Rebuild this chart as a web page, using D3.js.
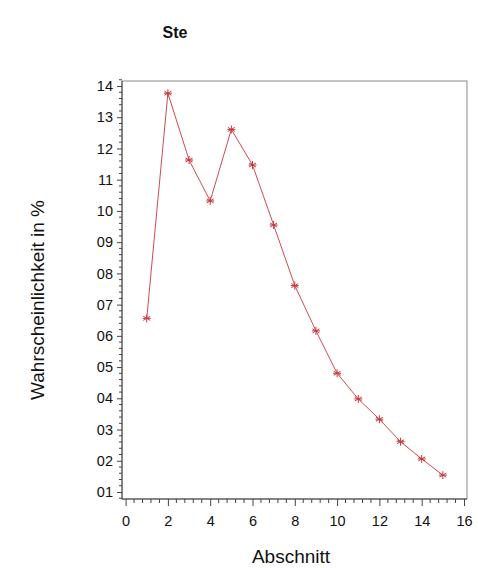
<!DOCTYPE html>
<html>
<head>
<meta charset="utf-8">
<script src="https://cdn.jsdelivr.net/npm/d3@7"></script>
<style>
  html, body { margin: 0; padding: 0; background: #fff; }
  svg { display: block; font-family: "Liberation Sans", Arial, sans-serif; }
</style>
</head>
<body>
<svg id="chart" width="478" height="568"></svg>
<script>
// Section numbers and probability per section
const sections = [1, 2, 3, 4, 5, 6, 7, 8, 9, 10, 11, 12, 13, 14, 15];
const probability = [6.56, 13.77, 11.63, 10.32, 12.61, 11.47, 9.55, 7.61, 6.16, 4.80, 3.98, 3.33, 2.61, 2.06, 1.54];
const xTicks = [0, 2, 4, 6, 8, 10, 12, 14, 16];
const yTicks = [1, 2, 3, 4, 5, 6, 7, 8, 9, 10, 11, 12, 13, 14];
const yTickLabels = ["01", "02", "03", "04", "05", "06", "07", "08", "09", "10", "11", "12", "13", "14"];
const titleText = "Ste";
const xTitle = "Abschnitt";
const yTitle = "Wahrscheinlichkeit in %";

const svg = d3.select("#chart");
const box = { left: 122, right: 467, top: 81, bottom: 499 };

const x = d3.scaleLinear().domain([0, 16]).range([125.6, 464]);
const y = d3.scaleLinear().domain([1, 14]).range([492, 86]);

const lineColor = "#c8383c";
const axisColor = "#444";

// Frame
svg.append("rect")
  .attr("x", box.left).attr("y", box.top)
  .attr("width", box.right - box.left).attr("height", box.bottom - box.top)
  .attr("fill", "none").attr("stroke", "#8a8a8a").attr("stroke-width", 1);

// Minor ticks every fifth of a major interval
const yMinor = d3.range(0.8, 14.2001, 0.2).filter(v => Math.abs(v - Math.round(v)) > 1e-6);
const xMinor = d3.range(0, 16.0001, 0.4).filter(v => Math.abs(v / 2 - Math.round(v / 2)) > 1e-6);

// Y axis
const yAxis = d3.axisLeft(y).tickValues(yTicks)
  .tickFormat((d, i) => yTickLabels[i]).tickSize(5).tickPadding(4).tickSizeOuter(0);
const gy = svg.append("g").attr("transform", `translate(${box.left},0)`).call(yAxis);
gy.select(".domain").attr("d", `M0,${box.top}V${box.bottom}`).attr("stroke", axisColor);
gy.selectAll(".tick line").attr("stroke", axisColor);
gy.selectAll(".tick text").attr("font-size", 14.5).attr("fill", "#111")
  .attr("font-family", "'Liberation Sans', Arial, sans-serif");
gy.selectAll(".minor").data(yMinor).enter().append("line")
  .attr("class", "minor")
  .attr("x1", 0).attr("x2", -3)
  .attr("y1", d => y(d)).attr("y2", d => y(d))
  .attr("stroke", axisColor).attr("stroke-width", 1);

// X axis
const xAxis = d3.axisBottom(x).tickValues(xTicks).tickSize(7).tickPadding(10).tickSizeOuter(0);
const gx = svg.append("g").attr("transform", `translate(0,${box.bottom})`).call(xAxis);
gx.select(".domain").attr("d", `M${box.left},0H${box.right}`).attr("stroke", axisColor);
gx.selectAll(".tick line").attr("stroke", axisColor);
gx.selectAll(".tick text").attr("font-size", 14.5).attr("fill", "#111")
  .attr("font-family", "'Liberation Sans', Arial, sans-serif");
gx.selectAll(".minor").data(xMinor).enter().append("line")
  .attr("class", "minor")
  .attr("y1", 0).attr("y2", 4)
  .attr("x1", d => x(d)).attr("x2", d => x(d))
  .attr("stroke", axisColor).attr("stroke-width", 1);

// Series line
const pts = sections.map((s, i) => [s, probability[i]]);
svg.append("path")
  .datum(pts)
  .attr("fill", "none")
  .attr("stroke", lineColor)
  .attr("stroke-width", 0.9)
  .attr("d", d3.line().x(d => x(d[0])).y(d => y(d[1])));

// Asterisk markers
const star = d3.symbol().type({
  draw(ctx, size) {
    const r = Math.sqrt(size) / 2;
    for (let k = 0; k < 3; k++) {
      const a = Math.PI / 2 + k * Math.PI / 3;
      ctx.moveTo(r * Math.cos(a), r * Math.sin(a));
      ctx.lineTo(-r * Math.cos(a), -r * Math.sin(a));
    }
    ctx.moveTo(-r, 0);
    ctx.lineTo(r, 0);
  }
}).size(64);
svg.selectAll(".pt").data(pts).enter().append("path")
  .attr("class", "pt")
  .attr("transform", d => `translate(${x(d[0])},${y(d[1])})`)
  .attr("d", star)
  .attr("fill", "none")
  .attr("stroke", lineColor)
  .attr("stroke-width", 1);

// Titles
svg.append("text")
  .attr("x", 175).attr("y", 38)
  .attr("text-anchor", "middle")
  .attr("font-size", 16).attr("font-weight", "bold").attr("fill", "#111")
  .text(titleText);

svg.append("text")
  .attr("x", 291).attr("y", 563)
  .attr("text-anchor", "middle")
  .attr("font-size", 19).attr("fill", "#111")
  .text(xTitle);

svg.append("text")
  .attr("transform", "translate(44,300) rotate(-90)")
  .attr("text-anchor", "middle")
  .attr("font-size", 19).attr("fill", "#111")
  .text(yTitle);
</script>
</body>
</html>
